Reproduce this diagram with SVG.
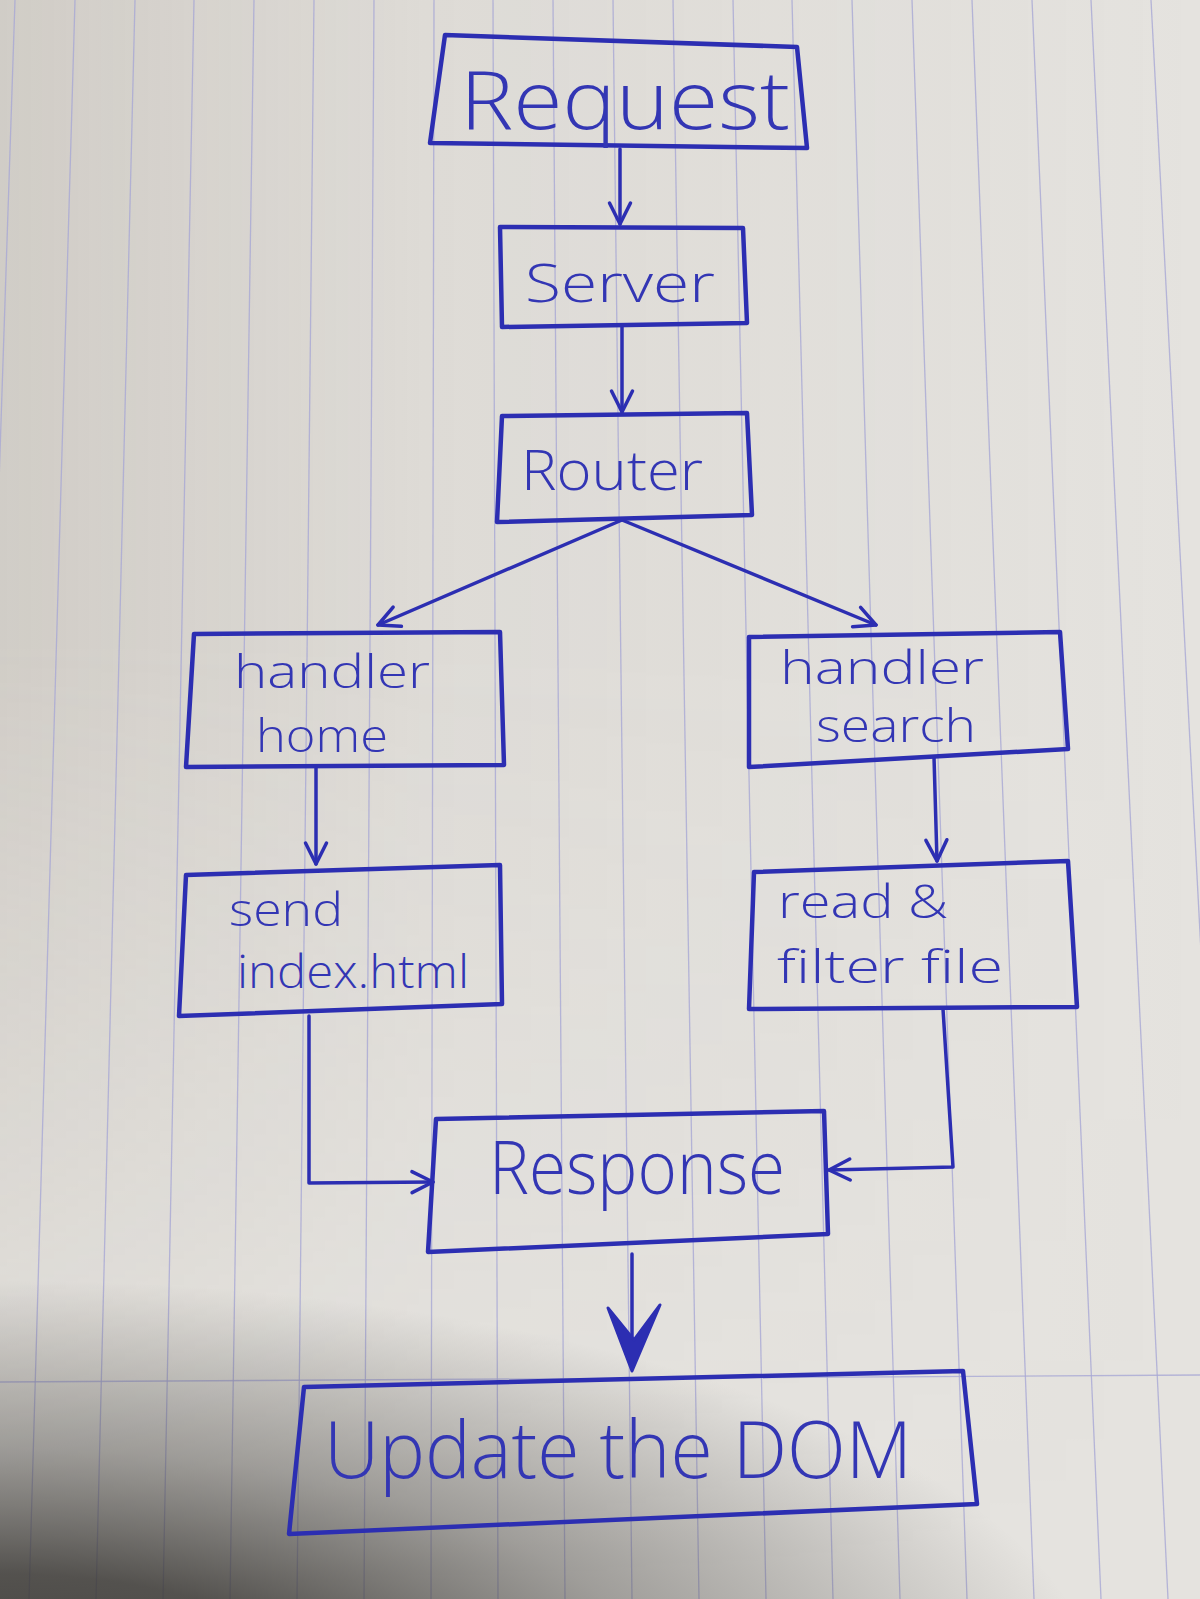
<svg xmlns="http://www.w3.org/2000/svg" width="1200" height="1599" viewBox="0 0 1200 1599">
  <defs>
    <radialGradient id="shadeBL" gradientUnits="userSpaceOnUse" cx="0" cy="0" r="1" gradientTransform="translate(0,1700) scale(1100,420)">
      <stop offset="0" stop-color="#3a3835" stop-opacity="0.95"/>
      <stop offset="0.3" stop-color="#3a3835" stop-opacity="0.85"/>
      <stop offset="0.6" stop-color="#4a4845" stop-opacity="0.45"/>
      <stop offset="1" stop-color="#4a4845" stop-opacity="0"/>
    </radialGradient>
    <linearGradient id="shadeL" x1="0" y1="0" x2="1" y2="0">
      <stop offset="0" stop-color="#8a7f72" stop-opacity="0.22"/>
      <stop offset="0.35" stop-color="#8a7f72" stop-opacity="0.08"/>
      <stop offset="1" stop-color="#8a7f72" stop-opacity="0"/>
    </linearGradient>
    <linearGradient id="shadeV" x1="0" y1="0" x2="0" y2="1">
      <stop offset="0" stop-color="#000" stop-opacity="0"/>
      <stop offset="0.4" stop-color="#000" stop-opacity="0"/>
      <stop offset="1" stop-color="#000" stop-opacity="1"/>
    </linearGradient>
    <mask id="vmask"><rect width="1200" height="1599" fill="#fff"/><rect width="1200" height="1599" fill="url(#shadeV)"/></mask>
    <marker id="arr" viewBox="0 0 24 24" refX="21" refY="12" markerWidth="28" markerHeight="28" markerUnits="userSpaceOnUse" orient="auto">
      <path d="M3,3 L21,12 L3,21" fill="none" stroke="#2c2eb2" stroke-width="3" stroke-linecap="round" stroke-linejoin="round"/>
    </marker>
  </defs>
  <style>
    .box { fill: none; stroke: #2c2eb2; stroke-width: 4.5; stroke-linejoin: round; stroke-linecap: round; }
    .con { fill: none; stroke: #2c2eb2; stroke-width: 3.5; stroke-linejoin: round; stroke-linecap: round; }
    .lbl { font-family: "Open Sans", "Liberation Sans", sans-serif; font-weight: 300; fill: #3336b4; }
    .sm { font-size: 46px; }
    .rule { stroke: #a8a8d4; stroke-width: 1.3; fill: none; opacity: 0.8; }
  </style>

  <!-- paper -->
  <rect width="1200" height="1599" fill="#e5e3df"/>
  <rect width="1200" height="1599" fill="url(#shadeL)" mask="url(#vmask)"/>
  <g id="paper-rules">
    <line class="rule" x1="15" y1="0" x2="-38" y2="1599"/>
    <line class="rule" x1="75" y1="0" x2="29" y2="1599"/>
    <line class="rule" x1="135" y1="0" x2="96" y2="1599"/>
    <line class="rule" x1="194" y1="0" x2="163" y2="1599"/>
    <line class="rule" x1="254" y1="0" x2="230" y2="1599"/>
    <line class="rule" x1="314" y1="0" x2="297" y2="1599"/>
    <line class="rule" x1="374" y1="0" x2="364" y2="1599"/>
    <line class="rule" x1="434" y1="0" x2="431" y2="1599"/>
    <line class="rule" x1="493" y1="0" x2="498" y2="1599"/>
    <line class="rule" x1="553" y1="0" x2="565" y2="1599"/>
    <line class="rule" x1="613" y1="0" x2="632" y2="1599"/>
    <line class="rule" x1="673" y1="0" x2="699" y2="1599"/>
    <line class="rule" x1="733" y1="0" x2="766" y2="1599"/>
    <line class="rule" x1="792" y1="0" x2="833" y2="1599"/>
    <line class="rule" x1="852" y1="0" x2="900" y2="1599"/>
    <line class="rule" x1="912" y1="0" x2="967" y2="1599"/>
    <line class="rule" x1="972" y1="0" x2="1034" y2="1599"/>
    <line class="rule" x1="1032" y1="0" x2="1101" y2="1599"/>
    <line class="rule" x1="1091" y1="0" x2="1168" y2="1599"/>
    <line class="rule" x1="1151" y1="0" x2="1235" y2="1599"/>
    <line class="rule" x1="0" y1="1382" x2="1200" y2="1375"/>
  </g>
  <rect width="1200" height="1599" fill="url(#shadeBL)"/>

  <g id="connectors">
    <path class="con" d="M620,149 L620,224" marker-end="url(#arr)"/>
    <path class="con" d="M622,325 L622,412" marker-end="url(#arr)"/>
    <path class="con" d="M622,520 L378,625" stroke-width="6.5" marker-end="url(#arr)"/>
    <path class="con" d="M622,520 L876,625" marker-end="url(#arr)"/>
    <path class="con" d="M316,767 L316,864" marker-end="url(#arr)"/>
    <path class="con" d="M934,757 L937,861" marker-end="url(#arr)"/>
    <path class="con" d="M309,1016 L309,1183 L433,1182" marker-end="url(#arr)"/>
    <path class="con" d="M943,1009 L953,1167 L829,1170" marker-end="url(#arr)"/>
    <path class="con" d="M632,1254 L632,1360"/>
    <path d="M608,1308 L632,1371 L660,1305 L634,1340 Z" fill="#2c2eb2" stroke="#2c2eb2" stroke-width="3" stroke-linejoin="round"/>
  </g>

  <g id="node-request">
    <path class="box" d="M445,35 L797,47 L807,148 L430,143 Z" stroke-width="5"/>
    <text class="lbl" x="460" y="129" font-size="82" textLength="330" lengthAdjust="spacingAndGlyphs">Request</text>
  </g>
  <g id="node-server">
    <path class="box" d="M500,227 L743,228 L747,323 L502,327 Z"/>
    <text class="lbl" x="525" y="302" font-size="54" textLength="190" lengthAdjust="spacingAndGlyphs">Server</text>
  </g>
  <g id="node-router">
    <path class="box" d="M502,416 L747,413 L752,515 L497,522 Z"/>
    <text class="lbl" x="521" y="490" font-size="56" textLength="182" lengthAdjust="spacingAndGlyphs">Router</text>
  </g>
  <g id="node-handler-home">
    <path class="box" d="M194,634 L500,632 L504,765 L186,767 Z"/>
    <text class="lbl sm" x="234" y="688" textLength="196" lengthAdjust="spacingAndGlyphs">handler</text>
    <text class="lbl sm" x="256" y="752" textLength="132" lengthAdjust="spacingAndGlyphs">home</text>
  </g>
  <g id="node-handler-search">
    <path class="box" d="M749,637 L1060,632 L1068,749 L749,767 Z"/>
    <text class="lbl sm" x="780" y="684" textLength="204" lengthAdjust="spacingAndGlyphs">handler</text>
    <text class="lbl sm" x="816" y="742" textLength="160" lengthAdjust="spacingAndGlyphs">search</text>
  </g>
  <g id="node-send">
    <path class="box" d="M186,875 L500,865 L502,1004 L179,1016 Z"/>
    <text class="lbl sm" x="229" y="926" textLength="114" lengthAdjust="spacingAndGlyphs">send</text>
    <text class="lbl sm" x="237" y="988" textLength="232" lengthAdjust="spacingAndGlyphs">index.html</text>
  </g>
  <g id="node-read">
    <path class="box" d="M754,872 L1068,861 L1077,1007 L749,1009 Z"/>
    <text class="lbl sm" x="778" y="918" textLength="170" lengthAdjust="spacingAndGlyphs">read &amp;</text>
    <text class="lbl sm" x="777" y="983" textLength="226" lengthAdjust="spacingAndGlyphs">filter file</text>
  </g>
  <g id="node-response">
    <path class="box" d="M436,1119 L824,1111 L828,1234 L428,1252 Z"/>
    <text class="lbl" x="489" y="1194" font-size="74" textLength="296" lengthAdjust="spacingAndGlyphs">Response</text>
  </g>
  <g id="node-update">
    <path class="box" d="M304,1387 L963,1371 L977,1504 L289,1534 Z" stroke-width="5.5"/>
    <text class="lbl" x="324" y="1478" font-size="80" textLength="588" lengthAdjust="spacingAndGlyphs">Update the DOM</text>
  </g>
</svg>
